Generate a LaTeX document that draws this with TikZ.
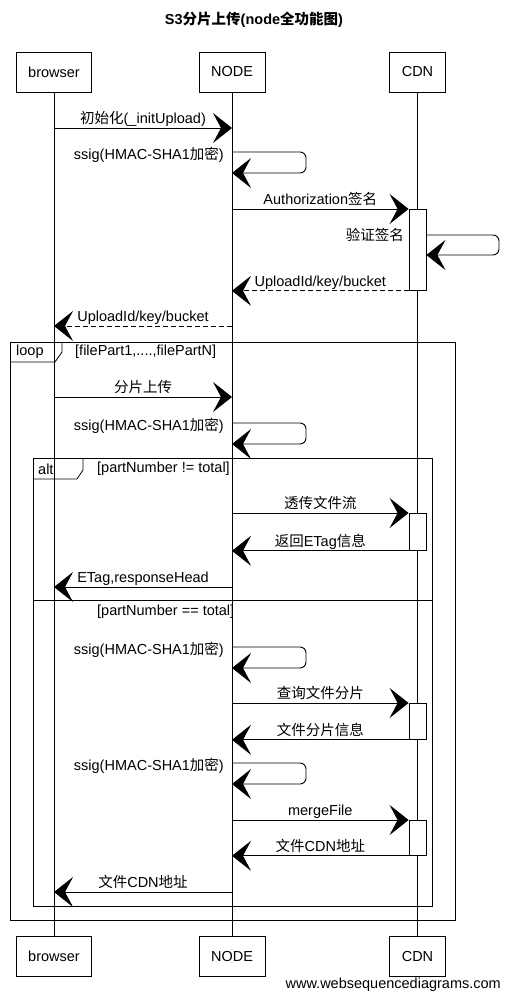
\documentclass[tikz,border=0pt]{standalone}
\usepackage{fontspec}
\setmainfont{Liberation Sans}
\newfontfamily\zh{Noto Sans CJK SC}
\usetikzlibrary{arrows.meta}

\begin{document}
\begin{tikzpicture}[
    x=1pt, y=-1pt,
    font=\fontsize{14.5}{17}\selectfont,
    actor/.style={draw, line width=0.8pt, inner xsep=12pt, minimum height=40pt},
    life/.style={line width=0.7pt},
    act/.style={draw, fill=white, line width=0.8pt, minimum width=17pt, inner sep=0pt, anchor=north},
    msg/.style={-{Stealth[length=19pt, width=30pt, inset=8pt]}, line width=0.9pt},
    ret/.style={msg, dash pattern=on 5pt off 3pt},
    selfmsg/.style={msg, rounded corners=6pt},
    lbl/.style={anchor=south, inner sep=1pt, text depth=3pt},
    frame/.style={line width=0.8pt},
]
\useasboundingbox (0,0) rectangle (509,1000);

% Title
\node[font=\fontsize{14.5}{17}\selectfont\bfseries] (title) at (254,20)
    {S3{\zh 分片上传}(node{\zh 全功能图})};

% Participants
\node[actor] (browser) at (54,72) {browser};
\node[actor] (nodeT) at (232,72) {NODE};
\node[actor] (cdn) at (417.5,72) {CDN};
\node[actor] (browserB) at (54,956) {browser};
\node[actor] (nodeB) at (232,956) {NODE};
\node[actor] (cdnB) at (417.5,956) {CDN};

% Lifelines
\draw[life] (browser) -- (browserB);
\draw[life] (nodeT) -- (nodeB);
\draw[life] (cdn) -- (cdnB);

% Loop frame
\draw[frame] (10,342) rectangle (455,920);
\draw[frame] (62,342) -- (62,352) -- (55,362) -- (10,362);
\node[anchor=west, inner sep=2pt] (loopLbl) at (14,352) {loop};
\node[anchor=west, inner sep=2pt] (loopGuard) at (73,352) {[filePart1,....,filePartN]};

% Alt frame
\draw[frame] (33,458) rectangle (432,906);
\draw[frame] (83,458) -- (83,470) -- (77,479) -- (33,479);
\draw[frame] (33,600) -- (432,600);
\node[anchor=west, inner sep=2pt] (altLbl) at (36,469) {alt};
\node[anchor=west, inner sep=2pt] (altGuardA) at (95,469) {[partNumber != total]};
\node[anchor=west, inner sep=2pt] (altGuardB) at (95,612) {[partNumber == total]};

% Activations on CDN
\node[act, minimum height=81pt] (a1) at (cdn |- 0,209) {};
\node[act, minimum height=37pt] (a2) at (cdn |- 0,513) {};
\node[act, minimum height=36pt] (a3) at (cdn |- 0,703) {};
\node[act, minimum height=35pt] (a4) at (cdn |- 0,820) {};

% Init
\draw[msg] (browser |- 0,128) -- (nodeT |- 0,128)
    node[lbl, midway] (m1) {{\zh 初始化}(\_initUpload)};

% Signing on NODE
\foreach \y [count=\i] in {152, 423, 647, 763} {
    \draw[selfmsg] (nodeT |- 0,\y) -- ++(74,0) -- ++(0,21) -- (nodeT |- 0,\y+21);
    \node[anchor=east, inner sep=1pt, text depth=3pt] (ssig\i) at (225,\y+2.5)
        {ssig(HMAC-SHA1{\zh 加密})};
}

\draw[msg] (nodeT |- 0,209) -- (a1.north west)
    node[lbl, midway] (m2) {Authorization{\zh 签名}};
\draw[selfmsg] (a1.east |- 0,235) -- (499,235) -- (499,255) -- (a1.east |- 0,255);
\node[anchor=east, inner sep=1pt] (verify) at (405,235) {\zh 验证签名};
\draw[ret] (a1.south west) -- (nodeT |- a1.south west)
    node[lbl, midway] (m3) {UploadId/key/bucket};
\draw[ret] (nodeT |- 0,326) -- (browser |- 0,326)
    node[lbl, midway] (m4) {UploadId/key/bucket};

% Loop body
\draw[msg] (browser |- 0,397) -- (nodeT |- 0,397)
    node[lbl, midway] (m5) {\zh 分片上传};
\draw[msg] (nodeT |- a2.north west) -- (a2.north west)
    node[lbl, midway] (m6) {\zh 透传文件流};
\draw[msg] (a2.south west) -- (nodeT |- a2.south west)
    node[lbl, midway] (m7) {{\zh 返回}ETag{\zh 信息}};
\draw[msg] (nodeT |- 0,587) -- (browser |- 0,587)
    node[lbl, midway] (m8) {ETag,responseHead};
\draw[msg] (nodeT |- a3.north west) -- (a3.north west)
    node[lbl, midway] (m9) {\zh 查询文件分片};
\draw[msg] (a3.south west) -- (nodeT |- a3.south west)
    node[lbl, midway] (m10) {\zh 文件分片信息};
\draw[msg] (nodeT |- a4.north west) -- (a4.north west)
    node[lbl, midway] (m11) {mergeFile};
\draw[msg] (a4.south west) -- (nodeT |- a4.south west)
    node[lbl, midway] (m12) {{\zh 文件}CDN{\zh 地址}};
\draw[msg] (nodeT |- 0,892) -- (browser |- 0,892)
    node[lbl, midway] (m13) {{\zh 文件}CDN{\zh 地址}};

% Footer
\node[anchor=east, inner sep=0pt] (footer) at (501,985) {www.websequencediagrams.com};

\end{tikzpicture}
\end{document}
